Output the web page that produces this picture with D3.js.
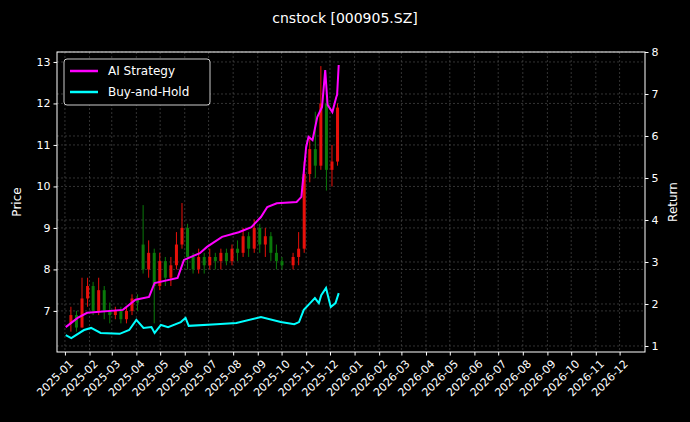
<!DOCTYPE html>
<html><head><meta charset="utf-8">
<script src="https://cdn.jsdelivr.net/npm/d3@7"></script>
<style>body{margin:0;background:#000}svg{font-family:"DejaVu Sans",sans-serif}</style>
</head><body>
<svg id="c" width="690" height="422"></svg>
<script>
// weekly candles
const candleDates = ["2025-01-06","2025-01-13","2025-01-20","2025-01-27","2025-02-03","2025-02-10","2025-02-17","2025-02-24","2025-03-03","2025-03-10","2025-03-17","2025-03-24","2025-03-31","2025-04-07","2025-04-14","2025-04-21","2025-04-28","2025-05-05","2025-05-12","2025-05-19","2025-05-26","2025-06-02","2025-06-09","2025-06-16","2025-06-23","2025-06-30","2025-07-07","2025-07-14","2025-07-21","2025-07-28","2025-08-04","2025-08-11","2025-08-18","2025-08-25","2025-09-01","2025-09-08","2025-09-15","2025-09-22","2025-09-29","2025-10-13","2025-10-20","2025-10-27","2025-11-03","2025-11-10","2025-11-17","2025-11-24","2025-12-01","2025-12-08"];
const opens  = [6.7,6.9,6.6,7.3,7.6,7.0,7.5,7.0,6.9,7.0,6.8,7.0,7.3,8.6,8.0,8.4,7.6,8.2,7.8,8.1,8.6,9.0,8.3,8.0,8.3,8.1,8.3,8.2,8.4,8.2,8.5,8.4,8.8,8.5,9.0,8.6,8.8,8.4,8.2,8.1,8.3,8.5,10.3,10.9,10.5,12.0,10.4,10.6];
const closes = [6.9,6.6,7.3,7.6,7.0,7.5,7.0,6.9,7.0,6.8,7.0,7.3,7.2,8.0,8.4,7.6,8.2,7.8,8.1,8.6,9.0,8.3,8.0,8.3,8.1,8.3,8.2,8.4,8.2,8.5,8.4,8.8,8.5,9.0,8.6,8.8,8.4,8.2,8.1,8.3,8.5,10.3,10.9,10.5,12.0,10.4,10.6,11.9];
const highs  = [7.1,7.0,7.8,7.8,7.7,7.8,7.6,7.2,7.1,7.1,7.1,7.4,7.4,9.55,8.7,8.5,8.4,8.3,8.3,8.9,9.6,9.1,8.4,8.5,8.4,8.5,8.4,8.5,8.5,8.6,8.7,9.0,8.9,9.2,9.1,9.0,8.9,8.6,8.3,8.4,8.9,10.6,11.2,11.8,12.9,12.2,11.0,12.0];
const lows   = [6.5,6.5,6.6,7.1,6.9,6.9,6.8,6.7,6.8,6.7,6.7,6.9,7.0,7.9,7.8,6.7,7.5,7.6,7.6,8.0,8.5,8.0,7.9,7.9,7.9,8.0,8.0,8.0,8.1,8.1,8.2,8.3,8.3,8.4,8.4,8.3,8.2,8.0,8.0,8.0,8.1,8.4,10.1,10.2,10.4,9.9,10.0,10.5];

const aiDates = ["2025-01-02","2025-01-17","2025-01-29","2025-03-15","2025-03-31","2025-04-17","2025-04-24","2025-05-23","2025-05-31","2025-06-20","2025-06-29","2025-07-18","2025-08-08","2025-08-24","2025-09-05","2025-09-13","2025-09-25","2025-10-20","2025-10-26","2025-11-01","2025-11-04","2025-11-09","2025-11-15","2025-11-21","2025-11-25","2025-11-28","2025-12-04","2025-12-09","2025-12-10","2025-12-12"];
const aiReturn = [1.45,1.67,1.79,1.86,2.10,2.17,2.50,2.62,3.05,3.21,3.36,3.60,3.71,3.83,4.07,4.31,4.40,4.43,4.55,5.74,5.98,5.90,6.45,6.69,7.57,6.74,6.57,6.93,6.98,7.69];

const bhDates = ["2025-01-02","2025-01-09","2025-01-25","2025-02-03","2025-02-15","2025-03-11","2025-03-23","2025-04-01","2025-04-10","2025-04-20","2025-04-24","2025-05-02","2025-05-11","2025-05-27","2025-06-02","2025-06-06","2025-07-11","2025-08-05","2025-09-05","2025-09-30","2025-10-17","2025-10-23","2025-10-29","2025-11-06","2025-11-12","2025-11-17","2025-11-20","2025-11-26","2025-12-02","2025-12-08","2025-12-12"];
const bhReturn = [1.26,1.19,1.38,1.43,1.31,1.29,1.38,1.62,1.43,1.45,1.31,1.50,1.45,1.57,1.67,1.48,1.52,1.55,1.69,1.57,1.52,1.57,1.86,2.02,2.14,2.02,2.21,2.38,1.93,2.02,2.26];

const priceTicks = [7,8,9,10,11,12,13];
const returnTicks = [1,2,3,4,5,6,7,8];

const pd = d3.utcParse("%Y-%m-%d");
const svg = d3.select("#c");
const m = {left:57, right:645, top:52, bottom:352};

const x = d3.scaleUtc().domain([pd("2024-12-22"), pd("2027-01-02")]).range([m.left, m.right]);
const yP = d3.scaleLinear().domain([6.01, 13.24]).range([m.bottom, m.top]);
const yR = d3.scaleLinear().domain([0.857, 8.0]).range([m.bottom, m.top]);
const months = d3.utcMonth.range(pd("2025-01-01"), pd("2026-12-02"));

// grid
const grid = svg.append("g").attr("stroke","#555").attr("stroke-dasharray","2,2").attr("stroke-width",0.6);
months.forEach(d => grid.append("line").attr("x1",x(d)).attr("x2",x(d)).attr("y1",m.top).attr("y2",m.bottom));
priceTicks.forEach(p => grid.append("line").attr("x1",m.left).attr("x2",m.right).attr("y1",yP(p)).attr("y2",yP(p)));
returnTicks.forEach(r => grid.append("line").attr("x1",m.left).attr("x2",m.right).attr("y1",yR(r)).attr("y2",yR(r)));

// candles
const cg = svg.append("g");
candleDates.forEach((d,i) => {
  const col = closes[i] >= opens[i] ? "#e8100a" : "#0a7a0a";
  const cx = x(pd(d)) + 2;
  cg.append("line").attr("x1",cx).attr("x2",cx).attr("y1",yP(highs[i])).attr("y2",yP(lows[i])).attr("stroke",col).attr("stroke-width",1);
  cg.append("rect").attr("x",cx-1.5).attr("width",3)
    .attr("y",yP(Math.max(opens[i],closes[i]))).attr("height",Math.max(1,Math.abs(yP(opens[i])-yP(closes[i]))))
    .attr("fill",col);
});

const line = d3.line().x(d => x(d[0])).y(d => yR(d[1]));
svg.append("path").datum(bhDates.map((d,i)=>[pd(d),bhReturn[i]])).attr("d",line)
  .attr("fill","none").attr("stroke","#00ffff").attr("stroke-width",2);
svg.append("path").datum(aiDates.map((d,i)=>[pd(d),aiReturn[i]])).attr("d",line)
  .attr("fill","none").attr("stroke","#ff00ff").attr("stroke-width",2);

// frame
svg.append("rect").attr("x",m.left).attr("y",m.top).attr("width",m.right-m.left).attr("height",m.bottom-m.top)
  .attr("fill","none").attr("stroke","#fff").attr("stroke-width",1);

// axes
const styleAxis = g => { g.selectAll("path").remove(); g.selectAll("line").attr("stroke","#fff");
  g.selectAll("text").attr("fill","#fff").style("font-size","11px").style("font-family","DejaVu Sans"); };
svg.append("g").attr("transform",`translate(${m.left},0)`)
  .call(d3.axisLeft(yP).tickValues(priceTicks).tickSize(3.5).tickPadding(3).tickFormat(d3.format("d"))).call(styleAxis);
svg.append("g").attr("transform",`translate(${m.right},0)`)
  .call(d3.axisRight(yR).tickValues(returnTicks).tickSize(3.5).tickPadding(3).tickFormat(d3.format("d"))).call(styleAxis);
const xa = svg.append("g").attr("transform",`translate(0,${m.bottom})`)
  .call(d3.axisBottom(x).tickValues(months).tickSize(3.5).tickFormat(d3.utcFormat("%Y-%m"))).call(styleAxis);
xa.selectAll("text").attr("text-anchor","end").attr("dy",0).attr("dx",0)
  .attr("transform","translate(4,8) rotate(-45)");

svg.append("text").attr("x",345).attr("y",23).attr("text-anchor","middle").attr("fill","#fff")
  .style("font-size","14px").text("cnstock [000905.SZ]");
svg.append("text").attr("transform","translate(21,202) rotate(-90)").attr("text-anchor","middle").attr("fill","#fff")
  .style("font-size","12px").text("Price");
svg.append("text").attr("transform","translate(677,202) rotate(-90)").attr("text-anchor","middle").attr("fill","#fff")
  .style("font-size","12px").text("Return");

// legend
const lg = svg.append("g").attr("transform","translate(64,59)");
lg.append("rect").attr("width",146).attr("height",46).attr("rx",3).attr("fill","#000").attr("stroke","#ccc");
[["AI Strategy","#ff00ff"],["Buy-and-Hold","#00ffff"]].forEach((e,i) => {
  lg.append("line").attr("x1",6).attr("x2",34).attr("y1",12+i*21).attr("y2",12+i*21).attr("stroke",e[1]).attr("stroke-width",2.5);
  lg.append("text").attr("x",44).attr("y",16+i*21).attr("fill","#fff").style("font-size","12px").text(e[0]);
});
</script>
</body></html>
